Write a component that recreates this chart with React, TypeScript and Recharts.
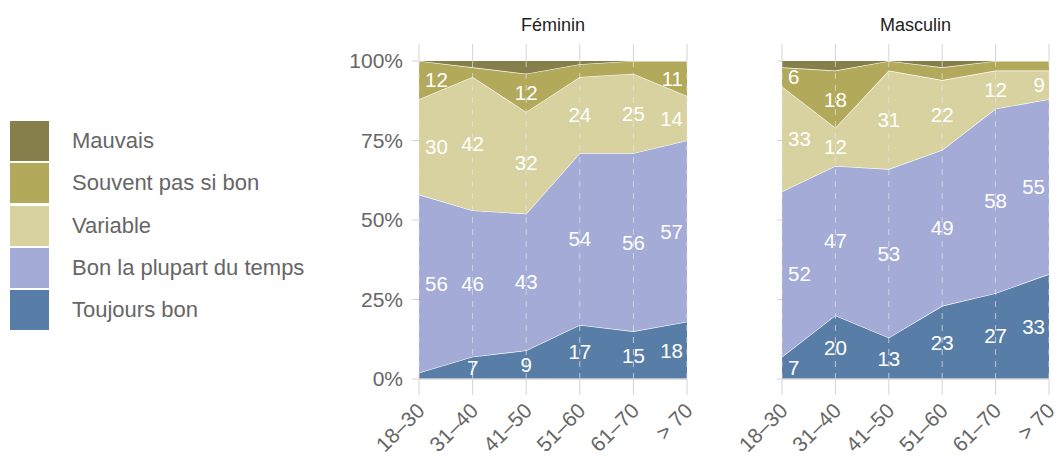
import React from 'react'
import { ComposedChart, Area, Line, XAxis, YAxis, ReferenceLine, LabelList } from 'recharts'

const AGES = ['18–30', '31–40', '41–50', '51–60', '61–70', '> 70']
// bottom to top of the stack
const SERIES = ['Toujours bon', 'Bon la plupart du temps', 'Variable', 'Souvent pas si bon', 'Mauvais']
const COLORS = ['#587ea7', '#a3abd6', '#d7d2a0', '#b3a95a', '#877f4b']
const Y_TICKS = [0, 25, 50, 75, 100]

const F_TOUJOURS = [2, 7, 9, 17, 15, 18]
const F_BON = [56, 46, 43, 54, 56, 57]
const F_VARIABLE = [30, 42, 32, 24, 25, 14]
const F_SOUVENT = [12, 3, 12, 4, 4, 11]
const F_MAUVAIS = [0, 2, 4, 1, 0, 0]

const M_TOUJOURS = [7, 20, 13, 23, 27, 33]
const M_BON = [52, 47, 53, 49, 58, 55]
const M_VARIABLE = [33, 12, 31, 22, 12, 9]
const M_SOUVENT = [6, 18, 3, 4, 3, 3]
const M_MAUVAIS = [2, 3, 0, 2, 0, 0]

const FONT = '"Liberation Sans", Arial, sans-serif'
const GRID = '#d4d4d4'
const TEXT = '#666'

// s<k> = share, m<k> = middle of the stacked band (for label placement)
function buildRows(cols: number[][]) {
  return AGES.map((age, i) => {
    const row: any = { age }
    let acc = 0
    cols.forEach((c, k) => {
      row['s' + k] = c[i]
      row['m' + k] = acc + c[i] / 2
      acc += c[i]
    })
    return row
  })
}

const femRows = buildRows([F_TOUJOURS, F_BON, F_VARIABLE, F_SOUVENT, F_MAUVAIS])
const masRows = buildRows([M_TOUJOURS, M_BON, M_VARIABLE, M_SOUVENT, M_MAUVAIS])

const bandLabel = (props: any) => {
  const vb = props.viewBox || {}
  const x = props.x ?? vb.x
  const y = props.y ?? vb.y
  const v = Number(props.value)
  if (x == null || y == null || !(v >= 5)) return null
  const idx = props.index
  let anchor = 'middle'
  let tx = x
  if (idx === 0) {
    anchor = 'start'
    tx = x + 6
  } else if (idx === AGES.length - 1) {
    anchor = 'end'
    tx = x - 4
  }
  return (
    <text x={tx} y={y} dy="0.36em" textAnchor={anchor} fill="#fff" fontSize={20.5} fontFamily={FONT}>
      {v}
    </text>
  )
}

const AgeTick = (props: any) => {
  const { x, y, payload } = props
  return (
    <text
      transform={`translate(${x + 7},${y + 15}) rotate(-45)`}
      textAnchor="end"
      fill={TEXT}
      fontSize={21}
      fontFamily={FONT}
    >
      {payload.value}
    </text>
  )
}

const Empty = () => <g />

type PanelProps = {
  title: string
  rows: any[]
  left: number
  width: number
  margin: { top: number; right: number; bottom: number; left: number }
  yWidth: number
  yLabels: boolean
}

function Panel({ title, rows, left, width, margin, yWidth, yLabels }: PanelProps) {
  const plotLeft = margin.left + yWidth
  const plotRight = width - margin.right - 5
  return (
    <div style={{ position: 'absolute', left, top: 0, width, height: 456 }}>
      <div
        style={{
          position: 'absolute',
          left: plotLeft,
          width: plotRight - plotLeft,
          top: 16,
          textAlign: 'center',
          fontSize: 18,
          lineHeight: '18px',
          color: '#222',
        }}
      >
        {title}
      </div>
      <ComposedChart width={width} height={456} data={rows} margin={margin}>
        <XAxis
          xAxisId="t"
          orientation="top"
          dataKey="age"
          scale="point"
          height={17}
          tickSize={17}
          axisLine={false}
          tickLine={{ stroke: GRID }}
          tick={Empty}
        />
        <XAxis
          xAxisId="b"
          dataKey="age"
          scale="point"
          height={77}
          tickSize={16}
          axisLine={{ stroke: GRID, strokeWidth: 1.5 }}
          tickLine={{ stroke: GRID }}
          tick={AgeTick}
          interval={0}
        />
        <YAxis
          yAxisId="l"
          domain={[0, 100]}
          ticks={Y_TICKS}
          width={yWidth}
          tickSize={yLabels ? 7 : 5}
          tickMargin={9}
          axisLine={false}
          tickLine={{ stroke: GRID }}
          tick={yLabels ? { fill: TEXT, fontSize: 21, fontFamily: FONT } : Empty}
          tickFormatter={(v) => `${v}%`}
        />
        <YAxis
          yAxisId="r"
          orientation="right"
          domain={[0, 100]}
          ticks={Y_TICKS}
          width={5}
          tickSize={5}
          axisLine={false}
          tickLine={{ stroke: GRID }}
          tick={Empty}
        />
        {SERIES.map((name, k) => (
          <Area
            key={name}
            name={name}
            xAxisId="b"
            yAxisId="l"
            type="linear"
            dataKey={'s' + k}
            stackId="a"
            fill={COLORS[k]}
            fillOpacity={1}
            stroke={k < SERIES.length - 1 ? '#fff' : 'none'}
            strokeWidth={1.2}
            dot={false}
            activeDot={false}
            isAnimationActive={false}
          />
        ))}
        {AGES.map((a) => (
          <ReferenceLine
            key={a}
            x={a}
            xAxisId="b"
            yAxisId="l"
            stroke="#e4e4e4"
            strokeOpacity={0.7}
            strokeDasharray="6 6"
          />
        ))}
        {SERIES.map((name, k) => (
          <Line
            key={'lab' + name}
            xAxisId="b"
            yAxisId="l"
            type="linear"
            dataKey={'m' + k}
            stroke="none"
            dot={false}
            activeDot={false}
            legendType="none"
            isAnimationActive={false}
          >
            <LabelList dataKey={'s' + k} content={bandLabel} />
          </Line>
        ))}
      </ComposedChart>
    </div>
  )
}

function Legend() {
  const items = SERIES.map((s, k) => ({ s, c: COLORS[k] })).reverse()
  return (
    <div style={{ position: 'absolute', left: 10, top: 121 }}>
      {items.map((it) => (
        <div key={it.s} style={{ display: 'flex', alignItems: 'center', height: 40, marginBottom: 2.3 }}>
          <div style={{ width: 39, height: 40, background: it.c }} />
          <span style={{ marginLeft: 23, fontSize: 22, color: TEXT, whiteSpace: 'nowrap' }}>{it.s}</span>
        </div>
      ))}
    </div>
  )
}

export default function App() {
  return (
    <div
      style={{
        position: 'absolute',
        left: 0,
        top: 0,
        width: 1060,
        height: 456,
        background: '#fff',
        fontFamily: FONT,
        overflow: 'hidden',
      }}
    >
      <Legend />
      <Panel
        title="Féminin"
        rows={femRows}
        left={0}
        width={700}
        margin={{ top: 44, right: 8, bottom: 0, left: 330 }}
        yWidth={89}
        yLabels
      />
      <Panel
        title="Masculin"
        rows={masRows}
        left={700}
        width={360}
        margin={{ top: 44, right: 6, bottom: 0, left: 76 }}
        yWidth={6}
        yLabels={false}
      />
    </div>
  )
}
